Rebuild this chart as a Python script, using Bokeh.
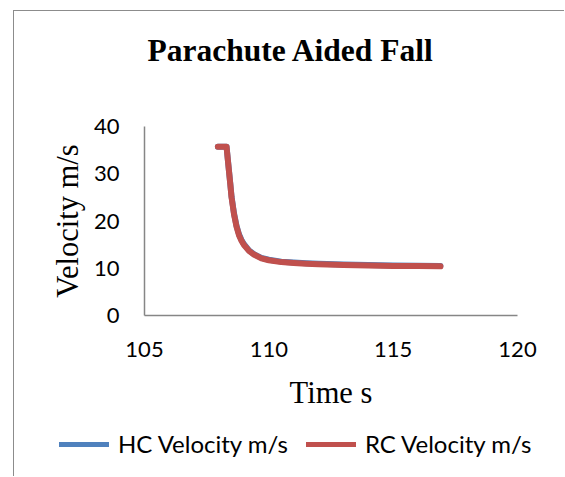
from bokeh.plotting import figure
from bokeh.layouts import column
from bokeh.models import Range1d, FixedTicker, Legend, LegendItem, LinearAxis
from bokeh.embed import file_html
from bokeh.resources import INLINE

# ---- data ----
time_s = [107.95, 108.30, 108.35, 108.40, 108.45, 108.50, 108.60, 108.70, 108.80,
          108.90, 109.00, 109.20, 109.40, 109.70, 110.00, 110.50, 111.00, 111.50,
          112.00, 113.00, 114.00, 115.00, 116.00, 116.90]
hc_velocity = [35.7, 35.7, 33.1, 30.5, 27.9, 25.2, 21.6, 19.0, 17.2,
               16.0, 15.1, 13.8, 13.0, 12.2, 11.8, 11.4, 11.2, 11.05,
               10.95, 10.8, 10.7, 10.6, 10.55, 10.5]
rc_velocity = [35.7, 35.7, 33.0, 30.4, 27.8, 25.0, 21.4, 18.8, 17.0,
               15.8, 14.9, 13.7, 12.9, 12.1, 11.7, 11.3, 11.1, 10.95,
               10.85, 10.7, 10.6, 10.5, 10.45, 10.4]
x_ticks = [105, 110, 115, 120]
y_ticks = [0, 10, 20, 30, 40]
title_text = "Parachute Aided Fall"
series_names = ["HC Velocity m/s", "RC Velocity m/s"]
series_colors = ["#4F81BD", "#C0504D"]

# ---------------- main chart ----------------
p = figure(width=550, height=409, output_backend="svg", toolbar_location=None,
           x_range=Range1d(105, 120), y_range=Range1d(0, 40),
           min_border_left=130, min_border_right=47, min_border_top=115, min_border_bottom=105)
p.background_fill_color = "white"
p.border_fill_color = "white"
p.outline_line_color = None
p.xgrid.visible = False
p.ygrid.visible = False

x_axis = p.xaxis[0]
y_axis = p.yaxis[0]

# blank spacer between the title and the plot area (white on white, no label text)
spacer = LinearAxis(ticker=FixedTicker(ticks=[112.5], minor_ticks=[]), axis_line_color=None,
                    major_tick_out=54, major_tick_in=0, minor_tick_out=0, minor_tick_in=0,
                    major_tick_line_color="white", minor_tick_line_color=None,
                    major_label_overrides={112.5: ""}, major_label_standoff=0,
                    major_label_text_font_size="1px")
p.add_layout(spacer, "above")

p.title.text = title_text
p.title.align = "left"
p.title.offset = 3
p.title.vertical_align = "bottom"
p.title.text_font = "Liberation Serif"
p.title.text_font_style = "bold"
p.title.text_font_size = "31.5px"
p.title.text_color = "black"

for ax, ticks in ((x_axis, x_ticks), (y_axis, y_ticks)):
    ax.ticker = FixedTicker(ticks=ticks)
    ax.major_tick_out = 0
    ax.major_tick_in = 0
    ax.minor_tick_out = 0
    ax.minor_tick_in = 0
    ax.axis_line_color = "#868686"
    ax.axis_line_width = 1.5
    ax.major_label_text_font = "Lato"
    ax.major_label_text_font_size = "22px"
    ax.major_label_text_color = "black"
    ax.axis_label_text_font = "Liberation Serif"
    ax.axis_label_text_font_size = "30.5px"
    ax.axis_label_text_font_style = "normal"
    ax.axis_label_text_color = "black"

x_axis.axis_label = "Time s"
y_axis.axis_label = "Velocity m/s"
x_axis.major_label_standoff = 26
y_axis.major_label_standoff = 25
x_axis.axis_label_standoff = 16
y_axis.axis_label_standoff = 6

p.line(time_s, hc_velocity, line_color=series_colors[0], line_width=6,
       line_cap="round", line_join="round")
p.line(time_s, rc_velocity, line_color=series_colors[1], line_width=6,
       line_cap="round", line_join="round")

# ---------------- legend strip ----------------
pl = figure(width=550, height=56, output_backend="svg", toolbar_location=None,
            x_range=Range1d(0, 1), y_range=Range1d(0, 1),
            x_axis_location=None, y_axis_location=None,
            min_border_left=0, min_border_right=0, min_border_top=0, min_border_bottom=0)
pl.background_fill_color = "white"
pl.border_fill_color = "white"
pl.outline_line_color = None
pl.xgrid.visible = False
pl.ygrid.visible = False
# do not align this strip's plot area with the chart's
for fig in (p, pl):
    if "frame_align" in fig.properties():
        fig.frame_align = False

# the legend strip's own copies of the two series (outside its empty view)
lg_hc = pl.line(time_s, hc_velocity, line_color=series_colors[0], line_width=5, line_cap="round")
lg_rc = pl.line(time_s, rc_velocity, line_color=series_colors[1], line_width=5, line_cap="round")

legend = Legend(items=[LegendItem(label=series_names[0], renderers=[lg_hc]),
                       LegendItem(label=series_names[1], renderers=[lg_rc])],
                orientation="horizontal", location=(45, 18),
                glyph_width=50, glyph_height=20, label_standoff=9, spacing=18,
                padding=0, margin=0, border_line_color=None, background_fill_alpha=0,
                label_text_font="Lato", label_text_font_size="24px", label_text_color="black")
pl.add_layout(legend, "center")

layout = column(p, pl, spacing=0)
layout.styles = {"margin-left": "13px", "margin-top": "10px",
                 "border-left": "1.5px solid #8c8c8c", "border-top": "1.5px solid #8c8c8c"}

open("out.html", "w").write(file_html(layout, INLINE))
